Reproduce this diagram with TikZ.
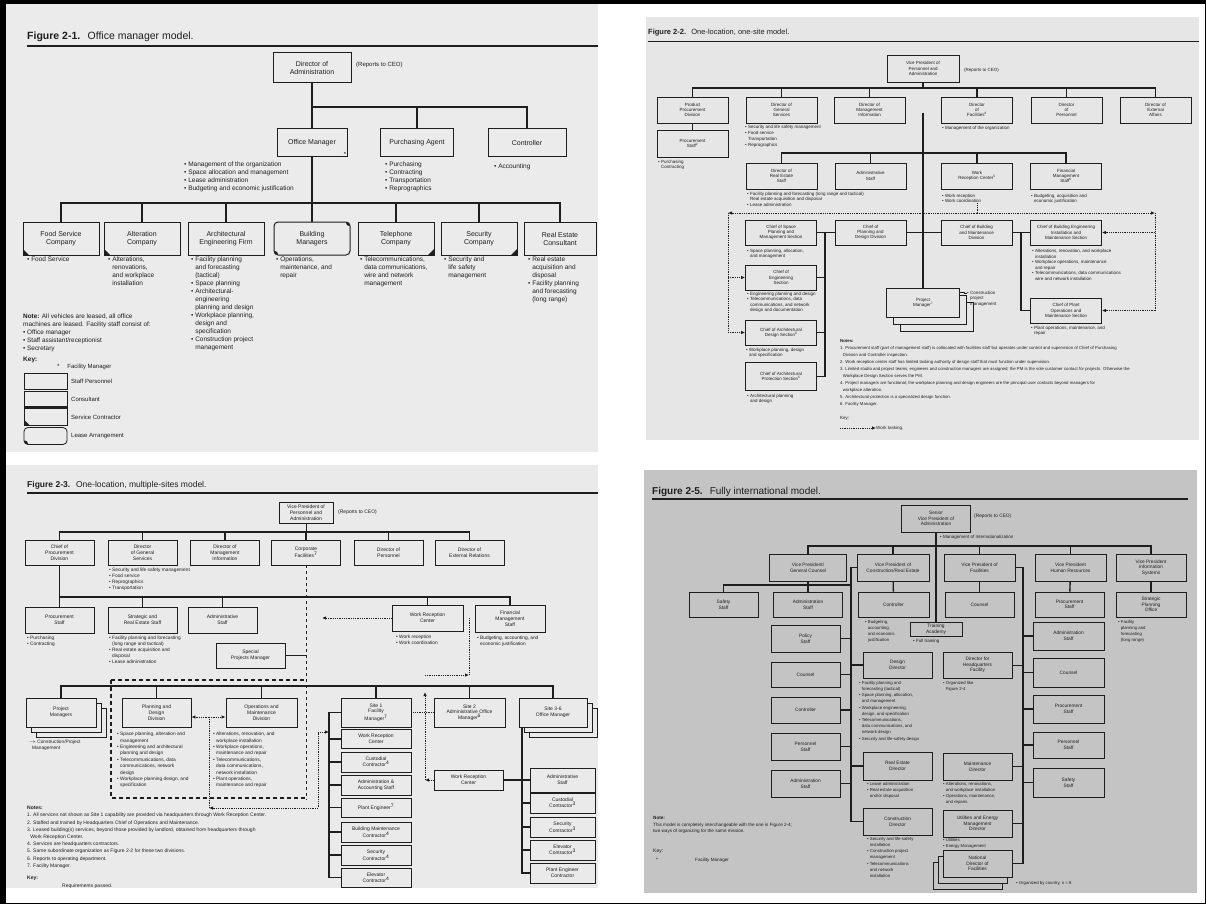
\documentclass[tikz,border=0pt]{standalone}
\usepackage{fontspec}
\setmainfont{Liberation Sans}
\usetikzlibrary{arrows.meta, calc, positioning}

\definecolor{ink}{HTML}{1E1E1E}
\definecolor{panela}{HTML}{EBEBEB}
\definecolor{panelb}{HTML}{E6E6E6}
\definecolor{panelc}{HTML}{EAEAEA}
\definecolor{paneld}{HTML}{C4C4C4}

\newcommand{\fsz}[2]{\fontsize{#1}{#2}\selectfont}
\newcommand{\indt}{\hphantom{• }}

\tikzset{
  wire/.style={draw=ink, line width=1.4pt},
  fine/.style={draw=ink, line width=0.5pt},
  task/.style={draw=ink, line width=0.8pt, densely dotted},
  dashwire/.style={draw=ink, line width=0.6pt, dashed},
  heavydash/.style={draw=ink, line width=1.4pt, dash pattern=on 4pt off 3pt},
  txt/.style={anchor=north west, align=left, inner sep=0pt, text=ink},
  boxa/.style={draw=ink, line width=1pt, align=center, inner sep=0.5pt, text=ink, font=\fsz{7}{8}},
  boxb/.style={draw=ink, line width=0.8pt, align=center, inner sep=0.5pt, text=ink, font=\fsz{4.5}{5.3}, minimum width=71pt, minimum height=26pt},
  boxc/.style={draw=ink, line width=0.9pt, align=center, inner sep=0.5pt, text=ink, font=\fsz{5}{5.8}, minimum width=69pt, minimum height=25pt},
  boxd/.style={draw=ink, line width=0.9pt, align=center, inner sep=0.5pt, text=ink, font=\fsz{4.8}{5.6}, minimum width=70pt, minimum height=27pt},
  cnrbl/.style={path picture={\fill[ink] (path picture bounding box.south west) -- ++(6pt,0pt) -- ++(-6pt,6pt) -- cycle;}},
  cnrbr/.style={path picture={\fill[ink] (path picture bounding box.south east) -- ++(-6pt,0pt) -- ++(6pt,6pt) -- cycle;}},
  cnrtrbl/.style={path picture={\fill[ink] (path picture bounding box.south west) -- ++(6pt,0pt) -- ++(-6pt,6pt) -- cycle;
    \fill[ink] (path picture bounding box.north east) -- ++(-6pt,0pt) -- ++(6pt,-6pt) -- cycle;}},
  >={Latex[length=4pt,width=3.5pt]}
}

\begin{document}
\begin{tikzpicture}[x=1pt, y=-1pt]
  \useasboundingbox (0,0) rectangle (1206,904);
  \fill[white] (0,0) rectangle (1206,904);

  % Figure 2-1
  \fill[panela] (6,4) rectangle (598,452);
  \node[txt, anchor=base west, font=\fsz{10.5}{12}] (ttla) at (27,40) {\textbf{Figure 2-1.}\hspace{0.7em}Office manager model.};
  \draw[ink, line width=1.3pt] (27,46) -- (598,46);

  \node[boxa, minimum width=78pt, minimum height=30pt] (dir) at (312,68) {Director of\\Administration};
  \node[txt, anchor=west, font=\fsz{6}{7}] (repa) at (356,65) {(Reports to CEO)};
  \node[boxa, minimum width=70pt, minimum height=28pt] (om) at (312,143) {Office Manager};
  \node[anchor=south east, inner sep=1pt, font=\fsz{6}{6}] (omkey) at (om.south east) {*};
  \node[boxa, minimum width=73pt, minimum height=28pt] (pa) at (417,143) {Purchasing Agent};
  \node[boxa, minimum width=78pt, minimum height=28pt] (ctl) at (527,143) {Controller};
  \coordinate (busa) at (312,107);
  \draw[wire] (dir) -- (om);
  \draw[wire] (busa) -| (pa);
  \draw[wire] (busa) -| (ctl);

  \node[txt, font=\fsz{6.5}{8}] (oml) at (184,162) {• Management of the organization\\• Space allocation and management\\• Lease administration\\• Budgeting and economic justification};
  \node[txt, font=\fsz{6.5}{8}] (pal) at (385,162) {• Purchasing\\• Contracting\\• Transportation\\• Reprographics};
  \node[txt, font=\fsz{6.5}{8}] (ctll) at (494,164) {• Accounting};

  \node[boxa, cnrbl, minimum width=76pt, minimum height=33pt] (food) at (61,238.5) {Food Service\\Company};
  \node[boxa, cnrbl, minimum width=76pt, minimum height=33pt] (alt) at (142,238.5) {Alteration\\Company};
  \node[boxa, minimum width=76pt, minimum height=33pt] (arch) at (226,238.5) {Architectural\\Engineering Firm};
  \node[boxa, cnrtrbl, rounded corners=4pt, minimum width=76pt, minimum height=33pt] (bldg) at (312,238.5) {Building\\Managers};
  \node[boxa, cnrbr, minimum width=76pt, minimum height=33pt] (tel) at (396,238.5) {Telephone\\Company};
  \node[boxa, cnrbr, minimum width=76pt, minimum height=33pt] (sec) at (479,238.5) {Security\\Company};
  \node[boxa, minimum width=72pt, minimum height=33pt] (rest) at (560,238.5) {Real Estate\\Consultant};
  \coordinate (busb) at (312,203);
  \draw[wire] (om) -- (bldg);
  \foreach \n in {food,alt,arch,tel,sec,rest}
    \draw[wire] (busb) -| (\n);

  \node[txt, font=\fsz{6.5}{8}] (foodl) at (27,257) {• Food Service};
  \node[txt, font=\fsz{6.5}{8}] (altl) at (108,257) {• Alterations,\\\indt renovations,\\\indt and workplace\\\indt installation};
  \node[txt, font=\fsz{6.5}{8}] (archl) at (191,257) {• Facility planning\\\indt and forecasting\\\indt (tactical)\\• Space planning\\• Architectural-\\\indt engineering\\\indt planning and design\\• Workplace planning,\\\indt design and\\\indt specification\\• Construction project\\\indt management};
  \node[txt, font=\fsz{6.5}{8}] (bldgl) at (276,257) {• Operations,\\\indt maintenance, and\\\indt repair};
  \node[txt, font=\fsz{6.5}{8}] (tell) at (360,257) {• Telecommunications,\\\indt data communications,\\\indt wire and network\\\indt management};
  \node[txt, font=\fsz{6.5}{8}] (secl) at (444,257) {• Security and\\\indt life safety\\\indt management};
  \node[txt, font=\fsz{6.5}{8}] (restl) at (528,257) {• Real estate\\\indt acquisition and\\\indt disposal\\• Facility planning\\\indt and forecasting\\\indt (long range)};

  \node[txt, font=\fsz{6.4}{7.8}] (notea) at (23,314) {\textbf{Note:} All vehicles are leased, all office\\machines are leased. Facility staff consist of:\\• Office manager\\• Staff assistant/receptionist\\• Secretary};
  \node[txt, font=\fsz{6.5}{8}] (keya) at (23,357) {\textbf{Key:}};
  \node[txt, font=\fsz{6}{7}] (keyfm) at (57,364) {*\hspace{1.3em}Facility Manager};
  \node[draw=ink, line width=0.8pt, minimum width=43pt, minimum height=16pt] (kstaff) at (45.5,381) {};
  \node[draw=ink, line width=0.8pt, minimum width=43pt, minimum height=16pt] (kcons) at (45.5,399) {};
  \draw[ink, line width=2pt] (kcons.south west) -- (kcons.south east);
  \node[draw=ink, line width=0.8pt, cnrbl, minimum width=43pt, minimum height=17pt] (ksvc) at (45.5,417) {};
  \node[draw=ink, line width=0.8pt, cnrbl, rounded corners=4pt, minimum width=43pt, minimum height=17pt] (klease) at (45.5,436) {};
  \node[txt, anchor=west, font=\fsz{6}{7}] (kstafft) at (71,381) {Staff Personnel};
  \node[txt, anchor=west, font=\fsz{6}{7}] (kconst) at (71,399) {Consultant};
  \node[txt, anchor=west, font=\fsz{6}{7}] (ksvct) at (71,417) {Service Contractor};
  \node[txt, anchor=west, font=\fsz{6}{7}] (kleaset) at (71,436) {Lease Arrangement};

  % Figure 2-2
  \fill[panelb] (646,17) rectangle (1199,440);
  \node[txt, anchor=base west, font=\fsz{7.5}{9}] (ttlb) at (648,35) {\textbf{Figure 2-2.}\hspace{0.7em}One-location, one-site model.};
  \draw[ink, line width=0.8pt] (648,41) -- (1199,41);

  \node[boxb, minimum width=72pt, minimum height=27pt] (vpb) at (923,68.5) {Vice President of\\Personnel and\\Administration};
  \node[txt, anchor=west, font=\fsz{4.5}{5.5}] (repb) at (964,70) {(Reports to CEO)};
  \coordinate (busc) at (923,88);
  \draw[wire] (vpb) -- (busc);
  \node[boxb] (prod) at (692.5,110) {Product\\Procurement\\Division};
  \node[boxb] (gsv) at (781.5,110) {Director of\\General\\Services};
  \node[boxb] (mis) at (869.5,110) {Director of\\Management\\Information};
  \node[boxb] (fac) at (977,110) {Director\\of\\Facilities\textsuperscript{6}};
  \node[boxb] (per) at (1066.5,110) {Director\\of\\Personnel};
  \node[boxb] (ext) at (1155.5,110) {Director of\\External\\Affairs};
  \foreach \n in {prod,gsv,mis,fac,per,ext}
    \draw[wire] (busc) -| (\n);

  \node[boxb, minimum height=27pt] (pstf) at (692.5,143.5) {Procurement\\Staff\textsuperscript{2}};
  \draw[wire] (prod) -- (pstf);
  \node[txt, font=\fsz{4.5}{5.5}] (pstfl) at (658,160) {• Purchasing\\\indt Contracting};
  \node[txt, font=\fsz{4.5}{6}] (gsvl) at (745,125) {• Security and life safety management\\• Food service\\\indt Transportation\\• Reprographics};
  \node[txt, font=\fsz{4.5}{5.5}] (facl) at (942,126) {• Management of the organization};

  \coordinate (trk) at (923,113);
  \coordinate (busd) at (923,153);
  \node[boxb] (rest2) at (781.5,176) {Director of\\Real Estate\\Staff};
  \node[boxb] (adm2) at (870.5,176) {Administrative\\Staff};
  \node[boxb] (wrc2) at (977,176) {Work\\Reception Center\textsuperscript{5}};
  \node[boxb] (fin2) at (1066,176) {Financial\\Management\\Staff\textsuperscript{6}};
  \foreach \n in {rest2,adm2,wrc2,fin2}
    \draw[wire] (busd) -| (\n);
  \node[txt, font=\fsz{4.5}{5.5}] (rest2l) at (747,192) {• Facility planning and forecasting (long range and tactical)\\\indt Real estate acquisition and disposal\\• Lease administration};
  \node[txt, font=\fsz{4.5}{5.5}] (wrc2l) at (942,194) {• Work reception\\• Work coordination};
  \node[txt, font=\fsz{4.5}{5.5}] (fin2l) at (1031,194) {• Budgeting, acquisition and\\\indt economic justification};

  \coordinate (tkl) at (728,213);
  \coordinate (tkr) at (1155,213);
  \draw[task] (wrc2l.south -| wrc2) -- (wrc2 |- tkl);
  \draw[task, ->] (wrc2 |- tkl) -- (tkl);
  \draw[task, ->] (wrc2 |- tkl) -- (tkr);

  \node[boxb, minimum height=25pt] (spc) at (781,232.5) {Chief of Space\\Planning and\\Management Section};
  \node[boxb, minimum height=25pt] (pdd) at (870.5,232.5) {Chief of\\Planning and\\Design Division};
  \node[boxb, minimum height=25pt] (bmd) at (976.5,232.5) {Chief of Building\\and Maintenance\\Division};
  \node[boxb, minimum height=25pt] (bes) at (1066,232.5) {Chief of Building Engineering\\Installation and\\Maintenance Section};
  \coordinate (spl) at (825,232.5);
  \coordinate (spr) at (1021,232.5);
  \draw[wire] (spc) -- (pdd);
  \draw[wire] (pdd) -- (bmd);
  \draw[wire] (bmd) -- (bes);

  \node[boxb, minimum height=25pt] (eng) at (781,277.5) {Chief of\\Engineering\\Section};
  \node[boxb, minimum height=25pt] (dsn) at (781,332.5) {Chief of Architectural\\Design Section\textsuperscript{8}};
  \node[boxb, minimum height=28pt] (prs) at (781,376.5) {Chief of Architectural\\Protection Section\textsuperscript{5}};
  \draw[wire] (spl) |- (prs);
  \draw[wire] (eng) -- (eng -| spl);
  \draw[wire] (dsn) -- (dsn -| spl);
  \node[boxb, minimum height=25pt] (pos) at (1066,310.5) {Chief of Plant\\Operations and\\Maintenance Section};
  \draw[wire] (spr) |- (pos);

  \draw[task] (tkl) -- (tkl |- dsn);
  \draw[task, ->] (tkl |- eng) -- (eng);
  \draw[task, ->] (tkl |- dsn) -- (dsn);
  \draw[task] (tkr) -- (tkr |- pos);
  \draw[task, ->] (tkr |- bes) -- (bes);
  \draw[task, ->] (tkr |- pos) -- (pos);

  \node[boxb, fill=panelb, minimum width=73pt, minimum height=29pt] (pm3) at (937,316.5) {};
  \node[boxb, fill=panelb, minimum width=73pt, minimum height=29pt] (pm2) at (930,309.5) {};
  \node[boxb, fill=panelb, minimum width=73pt, minimum height=29pt] (pm) at (923,302.5) {Project\\Manager\textsuperscript{7}};
  \draw[wire] (trk) -- (pm);
  \node[txt, font=\fsz{4.5}{5.5}] (pml) at (967,291) {• Construction\\\indt project\\\indt management};
  \draw[fine] ([yshift=-5pt]pm.north east) -- ++(4,0) |- ([yshift=-2.5pt]pml.north west);

  \node[txt, font=\fsz{4.5}{5.5}] (spcl) at (747,249) {• Space planning, allocation,\\\indt and management};
  \node[txt, font=\fsz{4.5}{5.3}] (engl) at (747,292) {• Engineering planning and design\\• Telecommunications, data\\\indt communications, and network\\\indt design and documentation};
  \node[txt, font=\fsz{4.5}{5.5}] (dsnl) at (746,348) {• Workplace planning, design\\\indt and specification};
  \node[txt, font=\fsz{4.5}{5.5}] (prsl) at (747,394) {• Architectural planning\\\indt and design};
  \node[txt, font=\fsz{4.5}{5.6}] (besl) at (1032,249) {• Alterations, renovation, and workplace\\\indt installation\\• Workplace operations, maintenance\\\indt and repair\\• Telecommunications, data communications\\\indt wire and network installation};
  \node[txt, font=\fsz{4.5}{5.5}] (posl) at (1031,326) {• Plant operations, maintenance, and\\\indt repair};

  \node[txt, font=\fsz{4.3}{7}] (notesb) at (840,339) {\textbf{Notes:}\\
    1. Procurement staff (part of management staff) is collocated with facilities staff but operates under control and supervision of Chief of Purchasing\\
    \indt Division and Controller inspection.\\
    2. Work reception center staff has limited tasking authority of design staff that must function under supervision.\\
    3. Limited studio and project teams, engineers and construction managers are assigned; the PM is the sole customer contact for projects. Otherwise the\\
    \indt Workplace Design Section serves the PM.\\
    4. Project managers are functional; the workplace planning and design engineers are the principal user contacts beyond managers for\\
    \indt workplace alteration.\\
    5. Architectural protection is a specialized design function.\\
    6. Facility Manager.};
  \node[txt, font=\fsz{4.5}{5.5}] (keyb) at (840,416) {Key:};
  \coordinate (keybs) at (840,428);
  \node[txt, anchor=west, font=\fsz{4.5}{5.5}] (keybt) at (876,428) {Work tasking.};
  \draw[task, ->] (keybs) -- (keybt);

  % Figure 2-3
  \fill[panelc] (6,465) rectangle (598,888);
  \node[txt, anchor=base west, font=\fsz{8.5}{10}] (ttlc) at (27,487) {\textbf{Figure 2-3.}\hspace{0.7em}One-location, multiple-sites model.};
  \draw[ink, line width=1.2pt] (27,493) -- (598,493);

  \node[boxc, minimum width=54pt, minimum height=21pt] (vpc) at (306,512.5) {Vice President of\\Personnel and\\Administration};
  \node[txt, anchor=west, font=\fsz{5}{6}] (repc) at (338,512) {(Reports to CEO)};
  \coordinate (buse) at (306,532);
  \draw[fine] (vpc) -- (buse);
  \node[boxc] (pcd) at (59.5,552.5) {Chief of\\Procurement\\Division};
  \node[boxc] (dgs) at (142.5,552.5) {Director\\of General\\Services};
  \node[boxc] (dmi) at (225,552.5) {Director of\\Management\\Information};
  \node[boxc] (cfac) at (306,552.5) {Corporate\\Facilities\textsuperscript{7}};
  \node[boxc] (dper) at (388.5,552.5) {Director of\\Personnel};
  \node[boxc] (der) at (469.5,552.5) {Director of\\External Relations};
  \foreach \n in {pcd,dgs,dmi,cfac,dper,der}
    \draw[wire] (buse) -| (\n);
  \node[txt, font=\fsz{4.8}{6}] (dgsl) at (109,568) {• Security and life safety management\\• Food service\\• Reprographics\\• Transportation};

  \coordinate (dshb) at (306,800);
  \draw[dashwire] (cfac) -- (dshb);

  \coordinate (busf) at (59.5,597);
  \draw[wire] (pcd) -- (busf);
  \node[boxc, minimum height=26pt] (pst) at (59.5,620) {Procurement\\Staff};
  \node[boxc, minimum height=26pt] (sre) at (142.5,620) {Strategic and\\Real Estate Staff};
  \node[boxc, minimum height=26pt] (ast) at (222.5,620) {Administrative\\Staff};
  \node[boxc, minimum width=71pt, minimum height=26pt] (wrc3) at (427.5,618) {Work Reception\\Center};
  \node[boxc, minimum width=70pt, minimum height=27pt] (fms) at (510,618.5) {Financial\\Management\\Staff};
  \foreach \n in {pst,sre,ast,wrc3,fms}
    \draw[wire] (busf) -| (\n);
  \node[txt, font=\fsz{4.8}{6}] (pstl) at (27,636) {• Purchasing\\• Contracting};
  \node[txt, font=\fsz{4.8}{6}] (srel) at (109,636) {• Facility planning and forecasting\\\indt (long range and tactical)\\• Real estate acquisition and\\\indt disposal\\• Lease administration};
  \node[txt, font=\fsz{4.8}{6}] (wrc3l) at (396,635) {• Work reception\\• Work coordination};
  \node[txt, font=\fsz{4.8}{6}] (fmsl) at (477,636) {• Budgeting, accounting, and\\\indt economic justification};

  \coordinate (tka) at (322,618);
  \draw[task, ->] (wrc3) -- (tka);
  \coordinate (tkb) at (469,675);
  \coordinate (tkc) at (425,675);
  \draw[task] (tkb |- wrc3) -- (tkb);
  \draw[task, ->] (tkc) -- (tkb);

  \node[boxc] (spm) at (250.5,655.5) {Special\\Projects Manager};
  \draw[wire] (spm) -- (spm -| dshb);
  \coordinate (dra) at (111,680);
  \coordinate (drb) at (111,798);
  \draw[heavydash] (dra) -- (dra -| dshb);
  \draw[heavydash] (dra) -- (drb) -- (drb -| dshb);

  \coordinate (busg) at (306,686);
  \node[boxc, fill=panelc, minimum width=70pt, minimum height=29pt] (pmg3) at (71,722.5) {};
  \node[boxc, fill=panelc, minimum width=70pt, minimum height=29pt] (pmg2) at (66,717.5) {};
  \node[boxc, fill=panelc, minimum width=70pt, minimum height=29pt] (pmg) at (61,712.5) {Project\\Managers};
  \node[boxc, minimum height=29pt] (pdv) at (156.5,712.5) {Planning and\\Design\\Division};
  \node[boxc, minimum width=71pt, minimum height=29pt] (omd) at (261.5,712.5) {Operations and\\Maintenance\\Division};
  \node[boxc, minimum width=70pt, minimum height=29pt] (sfm) at (376,712.5) {Site 1\\Facility\\Manager\textsuperscript{7}};
  \node[boxc, minimum width=71pt, minimum height=29pt] (sao) at (469.5,712.5) {Site 2\\Administrative Office\\Manager\textsuperscript{6}};
  \node[boxc, fill=panelc, minimum width=68pt, minimum height=29pt] (som3) at (563,722.5) {};
  \node[boxc, fill=panelc, minimum width=68pt, minimum height=29pt] (som2) at (558,717.5) {};
  \node[boxc, fill=panelc, minimum width=68pt, minimum height=29pt] (som) at (553,712.5) {Site 3-6\\Office Manager};
  \foreach \n in {pmg,pdv,omd,sfm,sao,som}
    \draw[wire] (busg) -| (\n);

  \coordinate (tkf) at (209,717);
  \coordinate (tkg) at (209,808);
  \coordinate (tkh) at (318,808);
  \coordinate (tki) at (318,732);
  \coordinate (spa) at (329,712.5);
  \draw[task, ->] (tkf) -- (tkf -| pdv.east);
  \draw[task, ->] (tkf) -- (tkf -| omd.west);
  \draw[task] (tkf) -- (tkg);
  \draw[task, <->] (tkg) -- (tkh) -- (tki) -- (tki -| spa);
  \draw[task] (sfm) -- (sao);

  \node[boxc, minimum width=70pt, minimum height=19pt] (s1) at (376,739) {Work Reception\\Center};
  \node[boxc, minimum width=70pt, minimum height=20pt] (s2) at (376,762) {Custodial\\Contractor\textsuperscript{4}};
  \node[boxc, minimum width=70pt, minimum height=20pt] (s3) at (376,785) {Administration \&\\Accounting Staff};
  \node[boxc, minimum width=70pt, minimum height=19pt] (s4) at (376,807.5) {Plant Engineer\textsuperscript{7}};
  \node[boxc, minimum width=70pt, minimum height=20pt] (s5) at (376,832) {Building Maintenance\\Contractor\textsuperscript{4}};
  \node[boxc, minimum width=70pt, minimum height=20pt] (s6) at (376,855) {Security\\Contractor\textsuperscript{4}};
  \node[boxc, minimum width=70pt, minimum height=19pt] (s7) at (376,877.5) {Elevator\\Contractor\textsuperscript{4}};
  \draw[wire] (sfm) -- (spa) |- (s7);
  \foreach \n in {s1,s2,s3,s4,s5,s6}
    \draw[wire] (\n) -- (\n -| spa);

  \coordinate (tkd) at (425,780);
  \coordinate (tke) at (425,692);
  \node[boxc, minimum height=20pt] (wrcl) at (468.5,780) {Work Reception\\Center};
  \draw[task, ->] (wrcl) -- (tkd);
  \draw[task, ->] (tkd) -- (tke);

  \coordinate (spb) at (522,727);
  \node[boxc, minimum width=65pt, minimum height=24pt] (t1) at (562.5,780) {Administrative\\Staff};
  \node[boxc, minimum width=65pt, minimum height=20pt] (t2) at (562.5,803) {Custodial\\Contractor\textsuperscript{3}};
  \node[boxc, minimum width=65pt, minimum height=20pt] (t3) at (562.5,827) {Security\\Contractor\textsuperscript{3}};
  \node[boxc, minimum width=65pt, minimum height=20pt] (t4) at (562.5,850) {Elevator\\Contractor\textsuperscript{3}};
  \node[boxc, minimum width=65pt, minimum height=20pt] (t5) at (562.5,873) {Plant Engineer\\Contractor};
  \draw[wire] (spb) |- (t5);
  \draw[wire] (wrcl) -- (wrcl -| spb);
  \foreach \n in {t1,t2,t3,t4}
    \draw[wire] (\n) -- (\n -| spb);

  \node[txt, font=\fsz{4.8}{6}] (pmgl) at (29,740) {$\rightarrow$ Construction/Project\\\indt Management};
  \node[txt, font=\fsz{4.8}{6.4}] (pdvl) at (117,732) {• Space planning, alteration and\\\indt management\\• Engineering and architectural\\\indt planning and design\\• Telecommunications, data\\\indt communications, network\\\indt design\\• Workplace planning design, and\\\indt specification};
  \node[txt, font=\fsz{4.8}{6.4}] (omdl) at (213,732) {• Alterations, renovation, and\\\indt workplace installation\\• Workplace operations,\\\indt maintenance and repair\\• Telecommunications,\\\indt data communications,\\\indt network installation\\• Plant operations,\\\indt maintenance and repair};

  \node[txt, font=\fsz{5}{7.2}] (notesc) at (27,806) {\textbf{Notes:}\\
    1. All services not shown as Site 1 capability are provided via headquarters through Work Reception Center.\\
    2. Staffed and trained by Headquarters Chief of Operations and Maintenance.\\
    3. Leased building(s) services, beyond those provided by landlord, obtained from headquarters through\\
    \indt Work Reception Center.\\
    4. Services are headquarters contractors.\\
    5. Same subordinate organization as Figure 2-2 for these two divisions.\\
    6. Reports to operating department.\\
    7. Facility Manager.};
  \begin{scope}
    \clip (6,465) rectangle (598,888.5);
    \node[txt, font=\fsz{5}{6}] (keyc) at (27,876) {\textbf{Key:}};
    \node[txt, font=\fsz{5}{6}] (keyct) at (62,884) {Requirements passed.};
  \end{scope}

  % Figure 2-5
  \fill[paneld] (644,470) rectangle (1197,893);
  \node[txt, anchor=base west, font=\fsz{10}{12}] (ttld) at (652,494) {\textbf{Figure 2-5.}\hspace{0.7em}Fully international model.};
  \draw[ink, line width=1.3pt] (652,499) -- (1188,499);

  \node[boxd, minimum width=69pt, minimum height=27pt] (svp) at (936,518.5) {Senior\\Vice President of\\Administration};
  \node[txt, anchor=west, font=\fsz{4.8}{5.6}] (repd) at (974,516) {(Reports to CEO)};
  \node[txt, font=\fsz{4.5}{5.5}] (mgi) at (940,535) {• Management of Internationalization};
  \coordinate (bush) at (936,546);
  \node[boxd, minimum width=77pt] (vgc) at (808,567.5) {Vice President/\\General Counsel};
  \node[boxd, minimum width=72pt] (vcr) at (893,567.5) {Vice President of\\Construction/Real Estate};
  \node[boxd, minimum width=71pt] (vfa) at (979.5,567.5) {Vice President of\\Facilities};
  \node[boxd, minimum width=71pt] (vhr) at (1070.5,567.5) {Vice President\\Human Resources};
  \node[boxd] (vis) at (1151,567.5) {Vice President\\Information\\Systems};
  \foreach \n in {vgc,vcr,vfa,vhr,vis}
    \draw[wire] (bush) -| (\n);

  \node[boxd, minimum width=52pt, minimum height=14pt] (tra) at (936,629) {Training\\Academy};
  \draw[wire] (svp) -- (tra);
  \node[txt, font=\fsz{4.5}{5.5}] (tral) at (913,639) {• Full training};

  \coordinate (busi) at (808,585);
  \coordinate (spd) at (851,567.5);
  \coordinate (spe) at (1023,567.5);
  \node[boxd, minimum width=69pt, minimum height=25pt] (rss) at (723.5,604.5) {Safety\\Staff};
  \node[boxd, minimum width=69pt, minimum height=25pt] (ras) at (808,604.5) {Administration\\Staff};
  \node[boxd, minimum width=71pt, minimum height=25pt] (rct) at (893.5,604.5) {Controller};
  \node[boxd, minimum width=69pt, minimum height=25pt] (rco) at (979.5,604.5) {Counsel};
  \node[boxd, minimum width=69pt, minimum height=25pt] (rps) at (1069.5,604.5) {Procurement\\Staff};
  \node[boxd, minimum width=70pt, minimum height=25pt] (rsp) at (1151,604.5) {Strategic\\Planning\\Office};
  \draw[wire] (vgc) -- (ras);
  \draw[wire] (busi) -| (rss);
  \draw[wire] (busi) -- (busi -| spd);
  \draw[wire] (vcr) -- (rct);
  \draw[wire] (vfa) -- (rco);
  \draw[wire] (vhr) -- (rps);
  \draw[wire] (vis) -- (rsp);

  \node[boxd, minimum width=69pt] (lps) at (805.5,638.5) {Policy\\Staff};
  \node[boxd, minimum width=69pt, minimum height=25pt] (lco) at (805.5,674.5) {Counsel};
  \node[boxd, minimum width=69pt, minimum height=26pt] (lct) at (805.5,710) {Controller};
  \node[boxd, minimum width=69pt] (lpe) at (805.5,746.5) {Personnel\\Staff};
  \node[boxd, minimum width=69pt] (lad) at (805.5,783.5) {Administration\\Staff};
  \node[boxd, minimum width=69pt, minimum height=26pt] (ddr) at (897.5,665) {Design\\Director};
  \node[boxd, minimum width=69pt, minimum height=28pt] (rdr) at (897.5,766) {Real Estate\\Director};
  \node[boxd, minimum width=69pt] (cdr) at (897.5,821.5) {Construction\\Director};
  \draw[wire] (vcr) -- (spd) |- (cdr);
  \foreach \n in {lps,lco,lct,lpe,lad,ddr,rdr}
    \draw[wire] (\n) -- (\n -| spd);

  \node[boxd, minimum width=69pt, minimum height=26pt] (hqf) at (977.5,665) {Director for\\Headquarters\\Facility};
  \node[boxd, minimum width=69pt] (mdr) at (977.5,766.5) {Maintenance\\Director};
  \node[boxd, minimum width=69pt] (ued) at (977.5,823.5) {Utilities and Energy\\Management\\Director};
  \node[boxd, fill=paneld, minimum width=69pt] (ndf3) at (967.5,875.5) {};
  \node[boxd, fill=paneld, minimum width=69pt] (ndf2) at (972.5,869.5) {};
  \node[boxd, fill=paneld, minimum width=69pt] (ndf) at (977.5,863.5) {National\\Director of\\Facilities};
  \draw[wire] (vfa) -- (spe) |- (ndf);
  \draw[fine] (hqf) -- (hqf -| spe);
  \node[boxd, minimum width=71pt, minimum height=28pt] (pad) at (1068.5,636) {Administration\\Staff};
  \node[boxd, minimum width=71pt, minimum height=29pt] (pco) at (1068.5,672.5) {Counsel};
  \node[boxd, minimum width=71pt, minimum height=28pt] (pps) at (1068.5,709) {Procurement\\Staff};
  \node[boxd, minimum width=71pt, minimum height=26pt] (ppe) at (1068.5,745) {Personnel\\Staff};
  \node[boxd, minimum width=71pt, minimum height=29pt] (psa) at (1068.5,782.5) {Safety\\Staff};
  \foreach \n in {mdr,ued,pad,pco,pps,ppe,psa}
    \draw[wire] (\n) -- (\n -| spe);

  \node[txt, font=\fsz{4.3}{6.2}] (rctl) at (865,620) {• Budgeting,\\\indt accounting,\\\indt and economic\\\indt justification};
  \node[txt, font=\fsz{4.3}{6.2}] (rspl) at (1118,620) {• Facility\\\indt planning and\\\indt forecasting\\\indt (long range)};
  \node[txt, font=\fsz{4.3}{6.2}] (ddrl) at (859,681) {• Facility planning and\\\indt forecasting (tactical)\\• Space planning, allocation,\\\indt and management\\• Workplace engineering,\\\indt design, and specification\\• Telecommunications,\\\indt data communications, and\\\indt network design\\• Security and life-safety design};
  \node[txt, font=\fsz{4.3}{6.2}] (hqfl) at (943,681) {• Organized like\\\indt Figure 2-4};
  \node[txt, font=\fsz{4.3}{6.2}] (rdrl) at (867,782) {• Lease administration\\• Real estate acquisition\\\indt and/or disposal};
  \node[txt, font=\fsz{4.3}{6.2}] (mdrl) at (943,782) {• Alterations, renovations,\\\indt and workplace installation\\• Operations, maintenance,\\\indt and repairs};
  \node[txt, font=\fsz{4.3}{6.2}] (cdrl) at (867,837) {• Security and life-safety\\\indt installation\\• Construction project\\\indt management\\• Telecommunications\\\indt and network\\\indt installation};
  \node[txt, font=\fsz{4.3}{6.2}] (uedl) at (943,838) {• Utilities\\• Energy Management};
  \node[txt, font=\fsz{4.3}{5.5}] (ndfl) at (1016,881) {• Organized by country, n = 8};

  \node[txt, font=\fsz{4.6}{6.8}] (noted) at (653,816) {\textbf{Note:}\\This model is completely interchangeable with the one in Figure 2-4;\\two ways of organizing for the same mission.};
  \node[txt, font=\fsz{5}{6}] (keyd) at (653,849) {Key:};
  \node[txt, font=\fsz{5}{6}] (keydm) at (656,858) {*};
  \node[txt, font=\fsz{4.6}{6}] (keydt) at (695,858) {Facility Manager};

  % frame
  \fill[black] (0,0) rectangle (6,904);
  \fill[black] (0,0) rectangle (1206,4);
  \draw[black, line width=1.5pt] (1205.25,0) -- (1205.25,904);
  \draw[black, line width=1.5pt] (0,903.25) -- (1206,903.25);
\end{tikzpicture}
\end{document}
